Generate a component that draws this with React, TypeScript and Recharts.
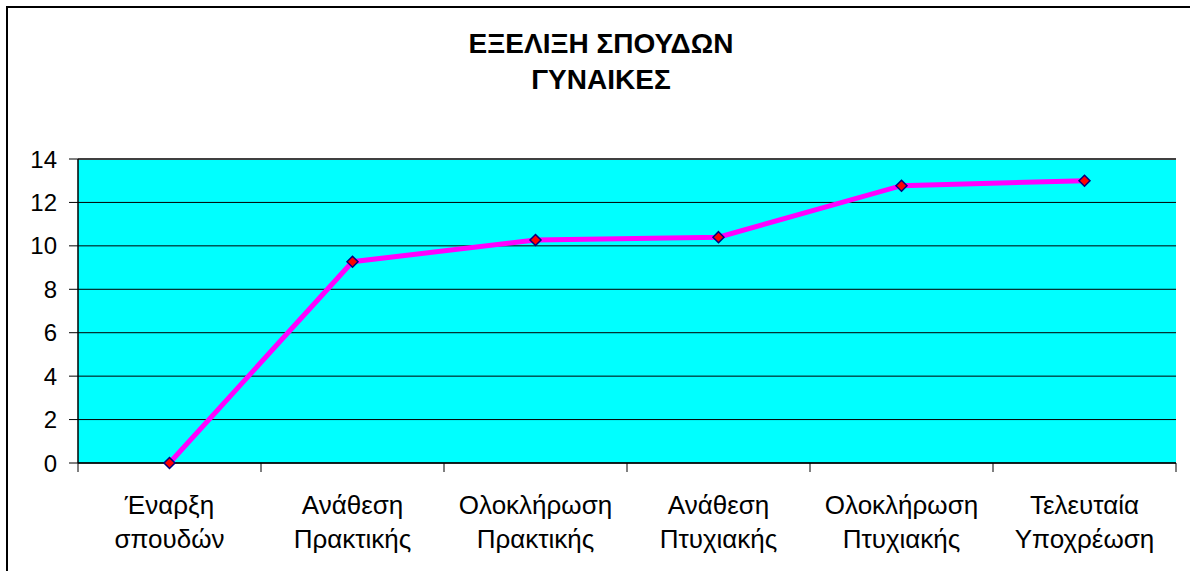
import React from "react";
import { LineChart, Line, XAxis, YAxis, CartesianGrid, ReferenceLine } from "recharts";

const categories = [
  "Έναρξη\nσπουδών",
  "Ανάθεση\nΠρακτικής",
  "Ολοκλήρωση\nΠρακτικής",
  "Ανάθεση\nΠτυχιακής",
  "Ολοκλήρωση\nΠτυχιακής",
  "Τελευταία\nΥποχρέωση",
];
const values = [0, 9.27, 10.27, 10.4, 12.77, 13.0];
const yTicks = [0, 2, 4, 6, 8, 10, 12, 14];
const titleLines = ["ΕΞΕΛΙΞΗ ΣΠΟΥΔΩΝ", "ΓΥΝΑΙΚΕΣ"];

const data = categories.map((c, i) => ({ name: c, value: values[i] }));

const FONT = "'Liberation Sans', Arial, sans-serif";

function CategoryTick(props: any) {
  const { x, y, payload, index, visibleTicksCount } = props;
  const half = payload && typeof payload.offset === "number" ? payload.offset : 0;
  const lines = String(payload.value).split("\n");
  return (
    <g>
      <line x1={x - half} y1={y} x2={x - half} y2={y + 9} stroke="#000" strokeWidth={1} />
      {index === visibleTicksCount - 1 && (
        <line x1={x + half} y1={y} x2={x + half} y2={y + 9} stroke="#000" strokeWidth={1} />
      )}
      {lines.map((l, i) => (
        <text key={i} x={x} y={y + 51 + i * 34} textAnchor="middle" fontSize={26} fontFamily={FONT} fill="#000">
          {l}
        </text>
      ))}
    </g>
  );
}

function Diamond(props: any) {
  const { cx, cy } = props;
  if (cx == null || cy == null) return null;
  const r = 5.5;
  return (
    <polygon
      points={`${cx},${cy - r} ${cx + r},${cy} ${cx},${cy + r} ${cx - r},${cy}`}
      fill="#FF0000"
      stroke="#000080"
      strokeWidth={1.5}
    />
  );
}

export default function App() {
  return (
    <div style={{ position: "fixed", left: 0, top: 0, width: 1190, height: 571, overflow: "hidden", background: "#fff" }}>
      <div
        style={{
          position: "absolute",
          left: 6,
          top: 6,
          width: 1300,
          height: 700,
          border: "2px solid #000",
          boxSizing: "border-box",
        }}
      />
      <svg width={1190} height={120} style={{ position: "absolute", left: 0, top: 0 }}>
        {titleLines.map((t, i) => (
          <text key={i} x={601} y={53 + i * 36} textAnchor="middle" fontSize={28} fontWeight="bold" fontFamily={FONT} fill="#000">
            {t}
          </text>
        ))}
      </svg>
      <div style={{ position: "absolute", left: 0, top: 0 }}>
        <LineChart width={1190} height={571} data={data} margin={{ top: 159, right: 14, bottom: 0, left: 0 }}>
          <CartesianGrid vertical={false} fill="#00FFFF" fillOpacity={1} stroke="#000" strokeOpacity={1} />
          <XAxis
            dataKey="name"
            scale="band"
            height={108}
            tickSize={0}
            tickMargin={0}
            tickLine={false}
            axisLine={{ stroke: "#000", strokeWidth: 1.5 }}
            tick={<CategoryTick />}
            interval={0}
          />
          <YAxis
            domain={[0, 14]}
            ticks={yTicks}
            width={78}
            tickSize={9}
            tickMargin={12}
            tickLine={{ stroke: "#000" }}
            axisLine={{ stroke: "#000", strokeWidth: 1.5 }}
            tick={{ fontSize: 24, fontFamily: FONT, fill: "#000" }}
            interval={0}
          />
          <YAxis
            yAxisId="right"
            orientation="right"
            width={0}
            tick={false}
            tickLine={false}
            axisLine={{ stroke: "#404040", strokeWidth: 2 }}
          />
          <ReferenceLine y={14} stroke="#404040" strokeWidth={2} />
          <Line
            type="linear"
            dataKey="value"
            stroke="#FF00FF"
            strokeWidth={5}
            dot={<Diamond />}
            activeDot={false}
            isAnimationActive={false}
          />
        </LineChart>
      </div>
    </div>
  );
}
